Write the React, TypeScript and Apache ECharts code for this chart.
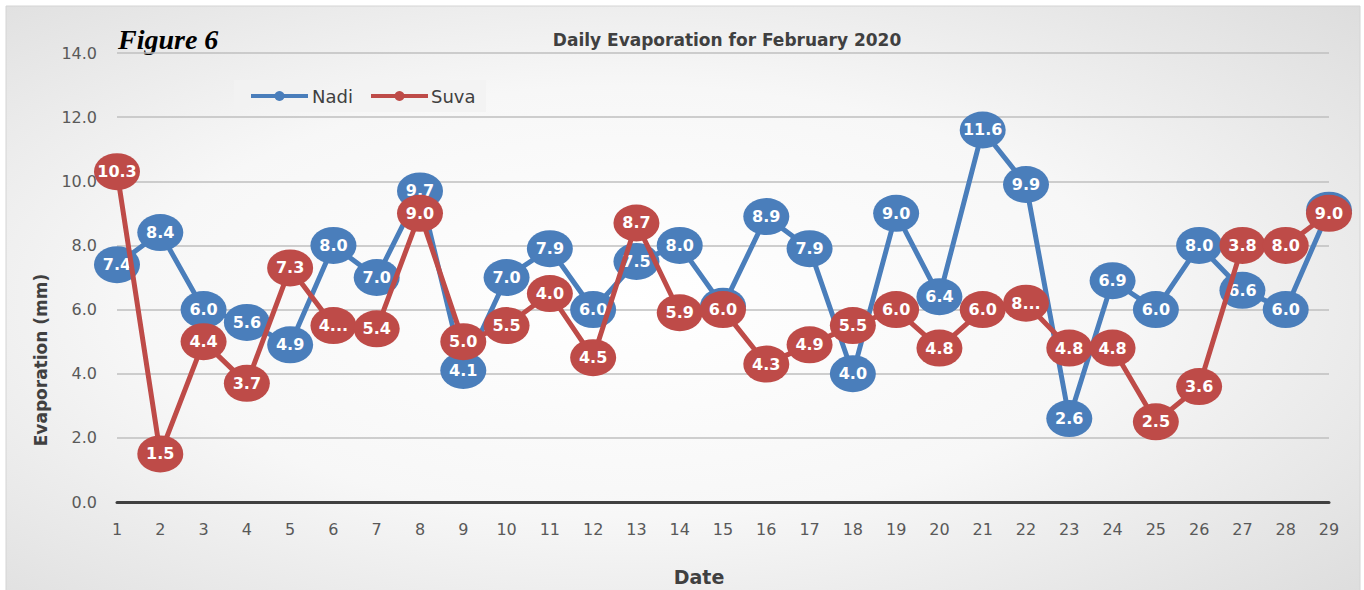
import React, { useEffect, useRef } from "react";
import * as echarts from "echarts";

const days: string[] = Array.from({ length: 29 }, (_, i) => String(i + 1));

const nadiValues: number[] = [
  7.4, 8.4, 6.0, 5.6, 4.9, 8.0, 7.0, 9.7, 4.1, 7.0, 7.9, 6.0, 7.5, 8.0, 6.1,
  8.9, 7.9, 4.0, 9.0, 6.4, 11.6, 9.9, 2.6, 6.9, 6.0, 8.0, 6.6, 6.0, 9.1,
];
const nadiLabels: string[] = [
  "7.4", "8.4", "6.0", "5.6", "4.9", "8.0", "7.0", "9.7", "4.1", "7.0", "7.9", "6.0", "7.5", "8.0", "6.1",
  "8.9", "7.9", "4.0", "9.0", "6.4", "11.6", "9.9", "2.6", "6.9", "6.0", "8.0", "6.6", "6.0", "9.1",
];

const suvaValues: number[] = [
  10.3, 1.5, 5.0, 3.7, 7.3, 5.5, 5.4, 9.0, 5.0, 5.5, 6.5, 4.5, 8.7, 5.9, 6.0,
  4.3, 4.9, 5.5, 6.0, 4.8, 6.0, 6.2, 4.8, 4.8, 2.5, 3.6, 8.0, 8.0, 9.0,
];
const suvaLabels: string[] = [
  "10.3", "1.5", "4.4", "3.7", "7.3", "4...", "5.4", "9.0", "5.0", "5.5", "4.0", "4.5", "8.7", "5.9", "6.0",
  "4.3", "4.9", "5.5", "6.0", "4.8", "6.0", "8...", "4.8", "4.8", "2.5", "3.6", "3.8", "8.0", "9.0",
];

const yTicks: number[] = [0, 2, 4, 6, 8, 10, 12, 14];

const BLUE = "#4a7ebb";
const RED = "#be4b48";
const ELLIPSE = "path://M0,50 A50,50 0 1,1 100,50 A50,50 0 1,1 0,50 Z";

export default function App() {
  const ref = useRef<HTMLDivElement>(null);

  useEffect(() => {
    if (!ref.current) return;
    const chart = echarts.init(ref.current, null, { renderer: "svg" });
    const labelStyle = {
      show: true,
      position: "inside" as const,
      color: "#ffffff",
      fontWeight: "bold" as const,
      fontSize: 16,
      fontFamily: "DejaVu Sans",
    };
    chart.setOption({
      animation: false,
      backgroundColor: "#ffffff",
      graphic: [
        {
          type: "rect",
          z: -100,
          silent: true,
          shape: { x: 6, y: 6, width: 1354, height: 590 },
          style: {
            fill: new echarts.graphic.RadialGradient(0.46, 0.5, 1.3, [
              { offset: 0, color: "#ffffff" },
              { offset: 0.28, color: "#f7f7f7" },
              { offset: 0.62, color: "#d8d8d8" },
              { offset: 1, color: "#b8b8b8" },
            ]),
            stroke: "#d4d4d4",
            lineWidth: 1,
          },
        },
        {
          type: "text",
          left: 118,
          top: 25,
          style: {
            text: "Figure 6",
            font: "italic bold 28px 'Liberation Serif'",
            fill: "#000000",
          },
        },
        {
          type: "text",
          x: 41,
          y: 360,
          rotation: Math.PI / 2,
          style: {
            text: "Evaporation (mm)",
            font: "bold 17px 'DejaVu Sans'",
            fill: "#404040",
            align: "center",
            verticalAlign: "middle",
          },
        },
        {
          type: "text",
          x: 699,
          y: 577,
          style: {
            text: "Date",
            font: "bold 19px 'DejaVu Sans'",
            fill: "#404040",
            align: "center",
            verticalAlign: "middle",
          },
        },
        {
          type: "group",
          left: 234,
          top: 80,
          children: [
            {
              type: "rect",
              shape: { x: 0, y: 0, width: 252, height: 32 },
              style: { fill: "rgba(242,242,242,0.85)" },
            },
            {
              type: "line",
              shape: { x1: 17, y1: 16, x2: 74, y2: 16 },
              style: { stroke: BLUE, lineWidth: 4 },
            },
            { type: "circle", shape: { cx: 45.5, cy: 16, r: 5 }, style: { fill: BLUE } },
            {
              type: "text",
              x: 78,
              y: 16,
              style: {
                text: "Nadi",
                font: "18px 'DejaVu Sans'",
                fill: "#404040",
                verticalAlign: "middle",
              },
            },
            {
              type: "line",
              shape: { x1: 137, y1: 16, x2: 194, y2: 16 },
              style: { stroke: RED, lineWidth: 4 },
            },
            { type: "circle", shape: { cx: 165.5, cy: 16, r: 5 }, style: { fill: RED } },
            {
              type: "text",
              x: 197,
              y: 16,
              style: {
                text: "Suva",
                font: "18px 'DejaVu Sans'",
                fill: "#404040",
                verticalAlign: "middle",
              },
            },
          ],
        },
      ],
      title: {
        text: "Daily Evaporation for February 2020",
        left: 722,
        top: 26,
        textAlign: "center",
        textStyle: {
          fontFamily: "DejaVu Sans",
          fontWeight: "bold",
          fontSize: 17,
          color: "#404040",
        },
      },
      grid: { left: 117, right: 35, top: 53, bottom: 88, containLabel: false },
      xAxis: {
        type: "category",
        data: days,
        boundaryGap: false,
        axisLine: { lineStyle: { color: "#404040", width: 3 } },
        axisTick: { show: false },
        axisLabel: {
          margin: 19,
          fontFamily: "DejaVu Sans",
          fontSize: 16,
          color: "#595959",
          interval: 0,
        },
        splitLine: { show: false },
      },
      yAxis: {
        type: "value",
        min: yTicks[0],
        max: yTicks[yTicks.length - 1],
        interval: 2,
        axisLine: { show: false },
        axisTick: { show: false },
        axisLabel: {
          margin: 20,
          fontFamily: "DejaVu Sans",
          fontSize: 16,
          color: "#595959",
          formatter: (v: number) => v.toFixed(1),
        },
        splitLine: { lineStyle: { color: "#bfbfbf", width: 1.5 } },
      },
      series: [
        {
          name: "Nadi",
          type: "line",
          data: nadiValues,
          z: 2,
          symbol: ELLIPSE,
          symbolSize: [46, 37],
          symbolKeepAspect: false,
          lineStyle: { color: BLUE, width: 5 },
          itemStyle: { color: BLUE },
          label: { ...labelStyle, formatter: (p: any) => nadiLabels[p.dataIndex] },
        },
        {
          name: "Suva",
          type: "line",
          data: suvaValues,
          z: 3,
          symbol: ELLIPSE,
          symbolSize: [46, 37],
          symbolKeepAspect: false,
          lineStyle: { color: RED, width: 5 },
          itemStyle: { color: RED },
          label: { ...labelStyle, formatter: (p: any) => suvaLabels[p.dataIndex] },
        },
      ],
    });
    return () => chart.dispose();
  }, []);

  return (
    <div
      ref={ref}
      style={{ position: "absolute", left: 0, top: 0, width: 1364, height: 590 }}
    />
  );
}
